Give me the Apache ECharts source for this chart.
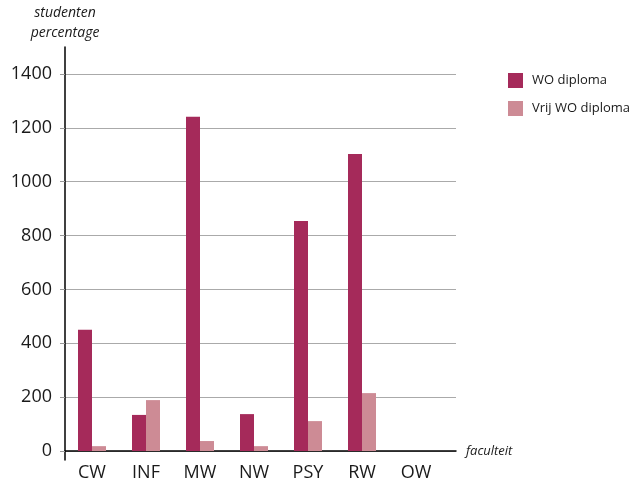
<!DOCTYPE html>
<html><head><meta charset="utf-8">
<script src="https://cdn.jsdelivr.net/npm/echarts@6/dist/echarts.min.js"></script>
<style>html,body{margin:0;padding:0;background:#fff}#c{width:634px;height:485px}</style>
</head><body><div id="c"></div>
<script>
const categories = ['CW','INF','MW','NW','PSY','RW','OW'];
const woDiploma = [450, 134, 1241, 137, 854, 1103, 0];
const vrijWoDiploma = [18, 189, 37, 18, 111, 215, 0];
const yTicks = [0, 200, 400, 600, 800, 1000, 1200, 1400];

const FONT = '"Open Sans", "Noto Sans", sans-serif';
const chart = echarts.init(document.getElementById('c'), null, {renderer:'canvas'});
chart.setOption({
  animation: false,
  backgroundColor: '#fff',
  textStyle: {fontFamily: FONT},
  legend: {
    orient: 'vertical', left: 508, top: 73, padding: 0,
    itemWidth: 15, itemHeight: 15, itemGap: 13,
    icon: 'rect',
    textStyle: {fontSize: 13, color: '#1a1a1a', fontFamily: FONT, padding: [0,0,0,4]},
    data: ['WO diploma', 'Vrij WO diploma']
  },
  grid: [
    {left: 65, right: 178, top: 74, bottom: 34},
    {left: 65, right: 191, top: 74, bottom: 34},
    {left: 65, width: 10, top: 47, bottom: 25}
  ],
  xAxis: [
    {gridIndex: 0, type: 'value', min: 0, max: 1,
     axisLine: {show: true, lineStyle: {color: '#000', width: 1.5}},
     axisTick: {show: false}, axisLabel: {show: false}, splitLine: {show: false},
     name: 'faculteit', nameLocation: 'end', nameGap: 10,
     nameTextStyle: {fontStyle: 'italic', fontSize: 13, color: '#1a1a1a', fontFamily: FONT}},
    {gridIndex: 1, type: 'category', data: categories,
     axisLine: {show: false}, axisTick: {show: false},
     axisLabel: {fontSize: 18, color: '#1a1a1a', margin: 13, fontFamily: FONT}},
    {gridIndex: 2, type: 'value', show: false, min: 0, max: 1}
  ],
  yAxis: [
    {gridIndex: 0, type: 'value', min: 0, max: 1400, interval: 200,
     axisLine: {show: false},
     axisTick: {show: true, length: 5, lineStyle: {color: '#999'}},
     axisLabel: {fontSize: 18, color: '#1a1a1a', margin: 13, fontFamily: FONT,
       formatter: v => yTicks.includes(v) ? String(v) : ''},
     splitLine: {show: true, lineStyle: {color: '#aaa', width: 1}}},
    {gridIndex: 1, type: 'value', min: 0, max: 1400, show: false},
    {gridIndex: 2, type: 'value', min: 0, max: 1,
     axisLine: {show: true, lineStyle: {color: '#000', width: 1.5}},
     axisTick: {show: false}, axisLabel: {show: false}, splitLine: {show: false},
     name: 'studenten\npercentage', nameLocation: 'end', nameGap: 4,
     nameTextStyle: {fontStyle: 'italic', fontSize: 14, color: '#1a1a1a', lineHeight: 20, align: 'center', fontFamily: FONT}}
  ],
  series: [
    {name: 'WO diploma', type: 'bar', xAxisIndex: 1, yAxisIndex: 1, data: woDiploma,
     barWidth: 14, barGap: '0%', itemStyle: {color: '#a52a5a'}},
    {name: 'Vrij WO diploma', type: 'bar', xAxisIndex: 1, yAxisIndex: 1, data: vrijWoDiploma,
     barWidth: 14, barGap: '0%', itemStyle: {color: '#cd8b95'}}
  ]
});
</script></body></html>
